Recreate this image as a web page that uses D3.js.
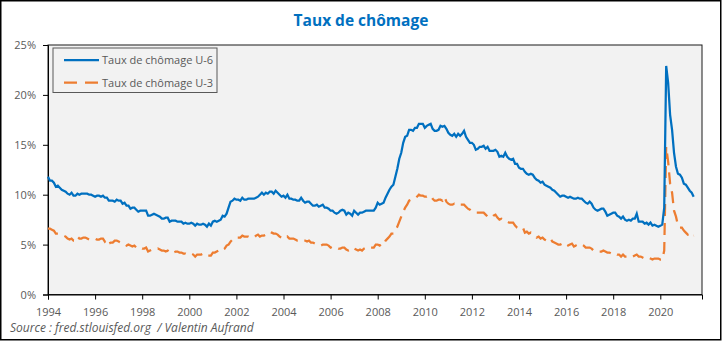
<!DOCTYPE html>
<html><head><meta charset="utf-8">
<script src="https://cdn.jsdelivr.net/npm/d3@7"></script>
<style>
body{margin:0;background:#fff;}
svg{display:block;}
text{font-family:"Open Sans",sans-serif;}
</style></head>
<body><svg id="c" width="723" height="341"></svg>
<script>
const startYear = 1994, startMonth = 0;
const u6 = [
11.8,11.4,11.4,11.2,10.8,10.9,10.7,10.5,10.4,10.3,10.1,10.0,
10.2,9.9,9.9,10.1,10.0,10.1,10.1,10.1,10.1,10.0,10.0,9.9,
9.8,9.9,9.9,9.8,9.9,9.7,9.7,9.4,9.4,9.4,9.3,9.5,
9.4,9.4,9.1,9.2,8.9,8.9,8.6,8.7,8.7,8.5,8.3,8.4,
8.4,8.4,8.4,7.9,7.9,8.0,8.1,8.0,7.9,7.8,7.6,7.6,
7.7,7.7,7.3,7.4,7.4,7.4,7.3,7.3,7.3,7.1,7.2,7.1,
7.1,7.2,7.1,6.9,7.1,7.0,7.0,7.1,7.0,6.8,7.1,6.9,
7.3,7.4,7.3,7.4,7.5,7.9,7.8,8.1,8.7,9.3,9.4,9.6,
9.5,9.5,9.4,9.7,9.5,9.5,9.6,9.6,9.6,9.6,9.7,9.8,
10.0,10.2,10.0,10.2,10.1,10.3,10.3,10.1,10.4,10.2,10.0,9.8,
9.9,9.7,10.0,9.6,9.6,9.5,9.5,9.4,9.4,9.7,9.4,9.2,
9.3,9.3,9.1,8.9,8.9,9.0,8.8,8.9,9.0,8.7,8.7,8.6,
8.4,8.4,8.2,8.1,8.2,8.4,8.5,8.4,8.0,8.2,8.1,7.9,
8.4,8.2,8.0,8.2,8.2,8.3,8.4,8.4,8.4,8.4,8.4,8.7,
9.2,9.0,9.1,9.2,9.7,10.1,10.5,10.8,11.0,11.8,12.6,13.6,
14.2,15.2,15.8,15.9,16.5,16.5,16.4,16.7,16.7,17.1,17.1,17.1,
16.7,16.9,17.0,17.1,16.6,16.4,16.4,16.5,16.9,16.8,16.9,16.6,
16.2,16.0,15.9,16.1,15.8,16.1,15.9,16.1,16.4,15.8,15.5,15.2,
15.2,15.0,14.5,14.6,14.8,14.8,14.9,14.6,14.8,14.4,14.4,14.4,
14.5,14.3,13.8,13.9,13.8,14.2,13.8,13.6,13.5,13.6,13.1,13.1,
12.7,12.6,12.6,12.3,12.1,12.0,12.1,12.0,11.7,11.5,11.4,11.2,
11.3,11.0,10.9,10.8,10.7,10.5,10.4,10.2,10.0,9.8,9.9,9.9,
9.8,9.7,9.8,9.7,9.6,9.6,9.7,9.6,9.6,9.4,9.2,9.1,
9.3,9.1,8.7,8.5,8.4,8.5,8.6,8.6,8.3,7.9,8.0,8.1,
8.2,8.2,7.9,7.8,7.6,7.8,7.5,7.4,7.5,7.4,7.6,7.6,
8.1,7.3,7.3,7.3,7.1,7.2,7.0,7.2,6.9,7.0,6.9,6.8,
6.9,7.0,8.7,22.9,21.2,18.0,16.5,14.2,12.8,12.1,12.0,11.7,
11.1,11.0,10.7,10.4,10.2,9.8
];
const u3 = [
6.6,6.6,6.5,6.4,6.1,6.1,6.1,6.0,5.9,5.8,5.6,5.5,
5.6,5.4,5.4,5.8,5.6,5.6,5.7,5.7,5.6,5.5,5.6,5.6,
5.6,5.5,5.5,5.6,5.6,5.3,5.5,5.1,5.2,5.2,5.4,5.4,
5.3,5.2,5.2,5.1,4.9,5.0,4.9,4.8,4.9,4.7,4.6,4.7,
4.6,4.6,4.7,4.3,4.4,4.5,4.5,4.5,4.6,4.5,4.4,4.4,
4.3,4.4,4.2,4.3,4.2,4.3,4.3,4.2,4.2,4.1,4.1,4.0,
4.0,4.1,4.0,3.8,4.0,4.0,4.0,4.1,3.9,3.9,3.9,3.9,
4.2,4.2,4.3,4.4,4.3,4.5,4.6,4.9,5.0,5.3,5.5,5.7,
5.7,5.7,5.7,5.9,5.8,5.8,5.8,5.7,5.7,5.7,5.9,6.0,
5.8,5.9,5.9,6.0,6.1,6.3,6.2,6.1,6.1,6.0,5.8,5.7,
5.7,5.6,5.8,5.6,5.6,5.6,5.5,5.4,5.4,5.5,5.4,5.4,
5.3,5.4,5.2,5.2,5.1,5.0,5.0,4.9,5.0,5.0,5.0,4.9,
4.7,4.8,4.7,4.7,4.6,4.6,4.7,4.7,4.5,4.4,4.5,4.4,
4.6,4.5,4.4,4.5,4.4,4.6,4.7,4.6,4.7,4.7,4.7,5.0,
5.0,4.9,5.1,5.0,5.4,5.6,5.8,6.1,6.1,6.5,6.8,7.3,
7.8,8.3,8.7,9.0,9.4,9.5,9.5,9.6,9.8,10.0,9.9,9.9,
9.8,9.8,9.9,9.9,9.6,9.4,9.4,9.5,9.5,9.4,9.8,9.3,
9.1,9.0,9.0,9.1,9.0,9.1,9.0,9.0,9.0,8.8,8.6,8.5,
8.3,8.3,8.2,8.2,8.2,8.2,8.2,8.0,7.8,7.8,7.7,7.9,
8.0,7.7,7.5,7.6,7.5,7.5,7.3,7.2,7.2,7.2,6.9,6.7,
6.6,6.7,6.7,6.2,6.3,6.1,6.2,6.1,5.9,5.7,5.8,5.6,
5.7,5.5,5.4,5.4,5.6,5.3,5.2,5.1,5.0,5.0,5.1,5.0,
4.8,4.9,5.0,5.1,4.8,4.9,4.8,4.9,5.0,4.9,4.7,4.7,
4.7,4.6,4.4,4.4,4.4,4.3,4.3,4.4,4.3,4.2,4.2,4.1,
4.0,4.1,4.0,4.0,3.8,4.0,3.8,3.8,3.7,3.8,3.8,3.9,
4.0,3.8,3.8,3.7,3.6,3.6,3.7,3.6,3.5,3.6,3.6,3.6,
3.5,3.5,4.4,14.8,13.3,11.1,10.2,8.4,7.8,6.9,6.7,6.7,
6.4,6.2,6.0,6.1,5.8,5.9
];
const seriesNames = ["Taux de chômage U-6","Taux de chômage U-3"];
const yTicks = [0,5,10,15,20,25];
const xTickYears = [1994,1996,1998,2000,2002,2004,2006,2008,2010,2012,2014,2016,2018,2020];
const title = "Taux de chômage";
const source = "Source : fred.stlouisfed.org  / Valentin Aufrand";

const svg = d3.select("#c");
const L = 48, R = 702, T = 45, B = 294.5;
const x = d3.scaleLinear().domain([1994, 1994 + (R - L) / 23.55]).range([L, R]);
const y = d3.scaleLinear().domain([0, 25]).range([B, T]);
const dateOf = i => startYear + (startMonth + i) / 12;

// outer frame
svg.append("rect").attr("x",0.75).attr("y",0.75).attr("width",720).attr("height",339)
  .attr("fill","#fff").attr("stroke","#000").attr("stroke-width",1.5);
// title
svg.append("text").attr("x",361).attr("y",26).attr("text-anchor","middle")
  .attr("fill","#0070c0").attr("font-weight","bold").attr("font-size","15.5px").text(title);
// plot area
svg.append("rect").attr("x",L).attr("y",T).attr("width",R-L).attr("height",B-T)
  .attr("fill","#f2f2f2").attr("stroke","#1a1a1a").attr("stroke-width",1);

// axes
const yAxis = d3.axisLeft(y).tickValues(yTicks).tickFormat(d => d + "%").tickSize(5).tickPadding(7);
const gy = svg.append("g").attr("transform",`translate(${L},0)`).call(yAxis);
const xAxis = d3.axisBottom(x).tickValues(xTickYears).tickFormat(d3.format("d")).tickSize(5).tickPadding(9);
const gx = svg.append("g").attr("transform",`translate(0,${B})`).call(xAxis);
[gx, gy].forEach(g => {
  g.select(".domain").attr("stroke","#000");
  g.selectAll(".tick line").attr("stroke","#000");
  g.selectAll(".tick text").attr("fill","#595959").attr("font-size","11px").attr("font-family","Open Sans");
});

// lines
const lineGen = d3.line().x((d,i) => x(dateOf(i))).y(d => y(d));
svg.append("path").datum(u3).attr("d",lineGen).attr("fill","none")
  .attr("stroke","#ed7d31").attr("stroke-width",2.25).attr("stroke-dasharray","12,7");
svg.append("path").datum(u6).attr("d",lineGen).attr("fill","none")
  .attr("stroke","#0070c0").attr("stroke-width",2.25);

// legend
const lg = svg.append("g");
lg.append("rect").attr("x",53).attr("y",48).attr("width",164).attr("height",44.5)
  .attr("fill","#f2f2f2").attr("stroke","#595959").attr("stroke-width",1);
const legItems = [{n:seriesNames[0], c:"#0070c0", dash:null, yy:60},
                  {n:seriesNames[1], c:"#ed7d31", dash:"13,8", yy:82.5}];
legItems.forEach(it => {
  lg.append("line").attr("x1",64).attr("x2",99).attr("y1",it.yy).attr("y2",it.yy)
    .attr("stroke",it.c).attr("stroke-width",2.25).attr("stroke-dasharray",it.dash);
  lg.append("text").attr("x",102).attr("y",it.yy+4).attr("font-size","11px")
    .attr("fill","#595959").text(it.n);
});

// source
svg.append("text").attr("x",10).attr("y",332).attr("font-size","12px").attr("font-style","italic")
  .attr("fill","#595959").style("white-space","pre").text(source);
</script></body></html>
